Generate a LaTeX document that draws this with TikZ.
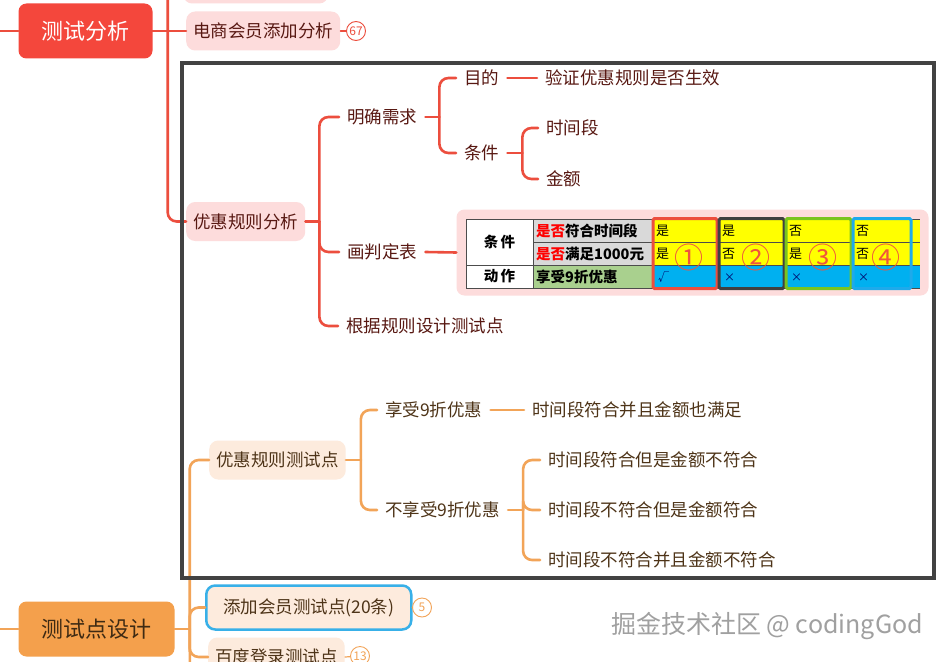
\documentclass[tikz,border=0pt]{standalone}
\usepackage{fontspec}
\setmainfont{Noto Sans CJK SC}
\usepackage{xcolor}
\usepackage{tikz}
\usetikzlibrary{positioning,calc}
\definecolor{rootred}{RGB}{244,71,60}
\definecolor{linered}{RGB}{236,78,62}
\definecolor{pinkfill}{RGB}{253,220,220}
\definecolor{redtext}{RGB}{88,24,18}
\definecolor{rootorange}{RGB}{244,160,76}
\definecolor{lineorange}{RGB}{242,164,88}
\definecolor{peachfill}{RGB}{253,235,221}
\definecolor{browntext}{RGB}{78,52,24}
\definecolor{framegray}{RGB}{66,66,66}
\definecolor{selblue}{RGB}{56,176,232}
\definecolor{cellyellow}{RGB}{255,255,0}
\definecolor{cellblue}{RGB}{0,176,240}
\definecolor{cellgray}{RGB}{217,217,217}
\definecolor{cellgreen}{RGB}{169,208,142}
\definecolor{numred}{RGB}{240,84,60}
\definecolor{blkgray}{RGB}{64,64,64}
\definecolor{blkgreen}{RGB}{122,196,30}
\definecolor{blkblue}{RGB}{30,170,235}
\definecolor{wmgray}{RGB}{160,160,160}
\newcommand{\topicfont}{\fontsize{17.5}{21}\selectfont}
\newcommand{\rootfont}{\fontsize{22}{26}\selectfont}
\newcommand{\cellfont}{\fontsize{14.5}{16}\selectfont}

\begin{document}
\begin{tikzpicture}[
x=1pt, y=-1pt,
rline/.style={draw=linered, line width=2.6pt, line cap=round},
oline/.style={draw=lineorange, line width=2.6pt, line cap=round},
elbow/.style={rounded corners=9pt},
rootbox/.style={rounded corners=8pt, minimum height=55pt, inner xsep=23pt, font=\rootfont},
pinkbox/.style={fill=pinkfill, rounded corners=9pt, minimum height=39pt, inner xsep=7pt, text=redtext, font=\topicfont},
peachbox/.style={fill=peachfill, rounded corners=9pt, minimum height=39pt, inner xsep=7pt, text=browntext, font=\topicfont},
rtopic/.style={inner xsep=8pt, inner ysep=3pt, text=redtext, font=\topicfont},
otopic/.style={inner xsep=8pt, inner ysep=3pt, text=browntext, font=\topicfont},
badge/.style={circle, draw, line width=0.9pt, inner sep=0pt, minimum size=19pt, fill=white, font=\fontsize{12}{12}\selectfont},
cell/.style={inner sep=0pt, font=\cellfont\bfseries},
valcell/.style={anchor=west, inner sep=0pt, font=\fontsize{13}{14}\selectfont},
actcell/.style={anchor=west, inner sep=0pt, text=blue!40!black, font=\fontsize{11}{12}\selectfont},
numtxt/.style={inner sep=0pt, text=numred, font=\fontsize{29}{30}\selectfont}
]
\clip (0,0) rectangle (944,661);
\fill[white] (0,0) rectangle (944,661);

% red branch
\node[rootbox, fill=rootred, text=white] (csfx) at (85.5,31) {测试分析};
\node[pinkbox, anchor=west, minimum width=145pt] (prev) at (183,-16) {};
\node[pinkbox, anchor=west] (dsfx) at (186,31) {电商会员添加分析};
\node[badge, draw=linered, text=linered] (b67) at (356,31) {67};
\node[pinkbox, anchor=west] (yhgz) at (186,221.5) {优惠规则分析};

\node[rtopic, anchor=west] (mqxq) at (339,117) {明确需求};
\node[rtopic, anchor=west] (hpdb) at (339,252) {画判定表};
\node[rtopic, anchor=west] (gjgz) at (338,326) {根据规则设计测试点};
\node[rtopic, anchor=west] (mudi) at (456,78) {目的};
\node[rtopic, anchor=west] (tiaojian) at (456,153) {条件};
\node[rtopic, anchor=west] (yzgz) at (537,78) {验证优惠规则是否生效};
\node[rtopic, anchor=west] (sjd) at (538,128) {时间段};
\node[rtopic, anchor=west] (jine) at (538,179) {金额};

\draw[rline] (csfx.west) -- ++(-30,0);
\draw[rline] (csfx.east) -- (dsfx.west);
\draw[rline] (csfx.east) -- ++(15,0) coordinate (jr);
\draw[rline, elbow] (jr) |- (prev.west);
\draw[rline, elbow] (jr) |- (yhgz.west);
\draw[rline, line width=1.2pt] (dsfx.east) -- (b67);
\draw[rline] (yhgz.east) -- ++(14,0) coordinate (jy);
\draw[rline, elbow] (jy) |- (mqxq.west);
\draw[rline, elbow] (jy) |- (hpdb.west);
\draw[rline, elbow] (jy) |- (gjgz.west);
\draw[rline] (mqxq.east) -- ++(14,0) coordinate (jm);
\draw[rline, elbow] (jm) |- (mudi.west);
\draw[rline, elbow] (jm) |- (tiaojian.west);
\draw[rline] (mudi.east) -- (yzgz.west);
\draw[rline] (tiaojian.east) -- ++(15,0) coordinate (jt);
\draw[rline, elbow] (jt) |- (sjd.west);
\draw[rline, elbow] (jt) |- (jine.west);

% decision table
\node[fill=pinkfill, rounded corners=8pt, minimum width=472pt, minimum height=86pt] (pdb) at (692.5,252.5) {};
\draw[rline] (hpdb.east) -- (pdb.west);
\fill[white] (466,219) rectangle (533,288);
\fill[cellgray] (533,219) rectangle (653,265);
\fill[cellgreen] (533,265) rectangle (653,288);
\fill[cellyellow] (653,219) rectangle (920,265);
\fill[cellblue] (653,265) rectangle (920,288);
\draw[gray!60!black, line width=0.8pt] (466,219) -- (920,219) (533,242) -- (920,242)
  (466,265) -- (920,265) (466,288) -- (920,288)
  (466,219) -- (466,288) (533,219) -- (533,288) (653,219) -- (653,288);
\node[cell] (tjcell) at (499.5,242) {条\,件};
\node[cell] (dzcell) at (499.5,276.5) {动\,作};
\node[cell, anchor=west] (cond1) at (536,230.5) {\textcolor{red}{是否}符合时间段};
\node[cell, anchor=west] (cond2) at (536,254) {\textcolor{red}{是否}满足1000元};
\node[cell, anchor=west] (act1) at (536,277) {享受9折优惠};
\foreach \i/\xa/\xb/\bc/\va/\vb/\act/\num in {1/653/717/linered/是/是/√/①, 2/719/784/blkgray/是/否/×/②, 3/786/851/blkgreen/否/是/×/③, 4/853/911/blkblue/否/否/×/④} {
  \draw[draw=\bc, line width=3pt, rounded corners=1.5pt] (\xa,218.5) rectangle (\xb,288.5);
  \node[valcell] (va\i) at (\xa+3,230.5) {\va};
  \node[valcell] (vb\i) at (\xa+3,254) {\vb};
  \node[actcell] (ac\i) at (\xa+5,277.5) {\act};
  \node[numtxt] (num\i) at ({(\xa+\xb)/2+4},257) {\num};
}

% orange branch
\node[rootbox, fill=rootorange, text=browntext!80!black] (cdsj) at (96.5,629) {测试点设计};
\node[peachbox, anchor=west] (yhcs) at (209,460) {优惠规则测试点};
\node[peachbox, anchor=west, draw=selblue, line width=2.5pt, minimum width=205pt, minimum height=44pt] (tjhy) at (205,607.5) {添加会员测试点(20条)};
\node[badge, draw=lineorange, text=lineorange] (b5) at (422,607.5) {5};
\node[peachbox, anchor=west] (bddl) at (208,657) {百度登录测试点};
\node[badge, draw=lineorange, text=lineorange] (b13) at (360,656) {13};
\coordinate (morepts) at (190,700);

\node[otopic, anchor=west] (xs) at (377,410) {享受9折优惠};
\node[otopic, anchor=west] (bxs) at (377,510) {不享受9折优惠};
\node[otopic, anchor=west] (xsd) at (524,410) {时间段符合并且金额也满足};
\node[otopic, anchor=west] (nA) at (540,460) {时间段符合但是金额不符合};
\node[otopic, anchor=west] (nB) at (540,510) {时间段不符合但是金额符合};
\node[otopic, anchor=west] (nC) at (540,560) {时间段不符合并且金额不符合};

\draw[oline] (cdsj.west) -- ++(-30,0);
\draw[oline] (cdsj.east) -- ++(15,0) coordinate (jc);
\draw[oline, elbow] (jc) |- (yhcs.west);
\draw[oline, elbow] (jc) |- (tjhy.west);
\draw[oline, elbow] (jc) |- (bddl.west);
\draw[oline] (jc) -- (morepts);
\draw[oline, line width=1.2pt] (tjhy.east) -- (b5);
\draw[oline, line width=1.2pt] (bddl.east) -- (b13);
\draw[oline] (yhcs.east) -- ++(15,0) coordinate (jh);
\draw[oline, elbow] (jh) |- (xs.west);
\draw[oline, elbow] (jh) |- (bxs.west);
\draw[oline] (xs.east) -- (xsd.west);
\draw[oline] (bxs.east) -- ++(15,0) coordinate (jb);
\draw[oline, elbow] (jb) |- (nA.west);
\draw[oline, elbow] (jb) |- (nB.west);
\draw[oline, elbow] (jb) |- (nC.west);

% frame and watermark
\draw[framegray, line width=4pt] (182,63) rectangle (934,578);
\node[text=wmgray, font=\fontsize{25}{28}\selectfont] (wm) at (767,626) {掘金技术社区 @ codingGod};
\end{tikzpicture}
\end{document}
